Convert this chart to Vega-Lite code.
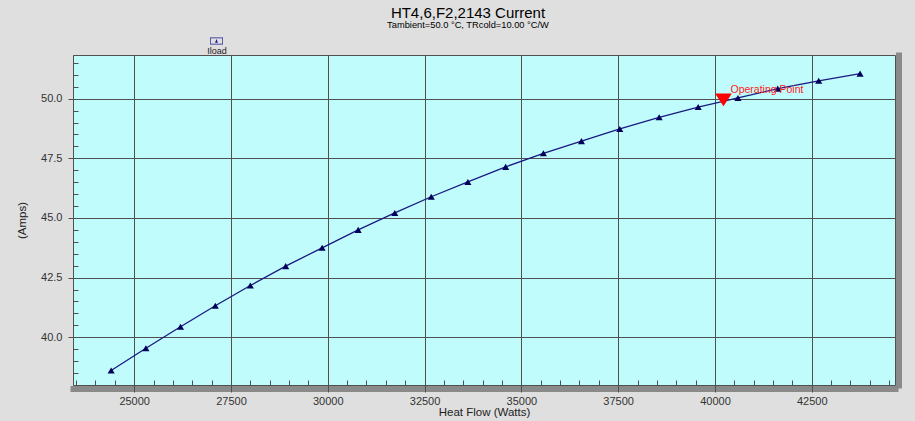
{
  "$schema": "https://vega.github.io/schema/vega-lite/v6.json",
  "width": 822,
  "height": 330,
  "autosize": {"type": "none"},
  "padding": {"left": 73, "top": 55, "right": 20, "bottom": 36},
  "background": "#dfdfdf",
  "config": {
    "font": "Liberation Sans",
    "view": {"fill": "#c0fcfc", "stroke": "#505050", "strokeWidth": 1}
  },
  "title": {
    "text": "HT4,6,F2,2143 Current",
    "subtitle": "Tambient=50.0 °C, TRcold=10.00 °C/W",
    "fontSize": 15,
    "fontWeight": "normal",
    "color": "#000000",
    "subtitleFontSize": 9.3,
    "subtitleColor": "#000000",
    "subtitlePadding": 0,
    "anchor": "middle",
    "frame": "group",
    "dx": -16
  },
  "datasets": {
    "curve": [
      {"heat": 24405, "amps": 38.61},
      {"heat": 25303, "amps": 39.54},
      {"heat": 26197, "amps": 40.44},
      {"heat": 27095, "amps": 41.32},
      {"heat": 28000, "amps": 42.17},
      {"heat": 28913, "amps": 42.98},
      {"heat": 29854, "amps": 43.75},
      {"heat": 30785, "amps": 44.50},
      {"heat": 31731, "amps": 45.21},
      {"heat": 32673, "amps": 45.89},
      {"heat": 33619, "amps": 46.51},
      {"heat": 34594, "amps": 47.14},
      {"heat": 35569, "amps": 47.71},
      {"heat": 36552, "amps": 48.22},
      {"heat": 37542, "amps": 48.73},
      {"heat": 38559, "amps": 49.22},
      {"heat": 39567, "amps": 49.65},
      {"heat": 40594, "amps": 50.03},
      {"heat": 41620, "amps": 50.42},
      {"heat": 42680, "amps": 50.75},
      {"heat": 43748, "amps": 51.05}
    ],
    "op": [{"heat": 40220, "amps": 49.95, "label": "Operating Point"}],
    "none": []
  },
  "resolve": {"axis": {"x": "independent", "y": "independent"}},
  "layer": [
    {
      "data": {"name": "curve"},
      "mark": {"type": "point", "opacity": 0},
      "encoding": {
        "x": {
          "field": "heat", "type": "quantitative",
          "scale": {"domain": [23420, 44650], "nice": false, "zero": false},
          "axis": {
            "orient": "bottom", "offset": 3.5, "values": [],
            "grid": false, "labels": false, "ticks": false, "title": null,
            "domain": true, "domainColor": "#8a8a8a", "domainWidth": 6, "domainCap": "square"
          }
        },
        "y": {
          "field": "amps", "type": "quantitative",
          "scale": {"domain": [38.0, 51.83], "nice": false, "zero": false},
          "axis": {
            "orient": "right", "offset": 3.5, "values": [],
            "grid": false, "labels": false, "ticks": false, "title": null,
            "domain": true, "domainColor": "#8a8a8a", "domainWidth": 6, "domainCap": "square"
          }
        }
      }
    },
    {
      "data": {"name": "curve"},
      "mark": {"type": "line", "color": "#1a1a80", "strokeWidth": 1.3},
      "encoding": {
        "x": {
          "field": "heat", "type": "quantitative",
          "axis": {
            "orient": "bottom",
            "values": [25000, 27500, 30000, 32500, 35000, 37500, 40000, 42500],
            "format": "d",
            "grid": true, "gridColor": "#505050", "gridOpacity": 1, "gridWidth": 1,
            "tickSize": 7, "tickColor": "#505050", "domain": false,
            "labelFontSize": 11, "labelColor": "#333333", "labelPadding": 3,
            "labelFlush": false, "labelOverlap": false,
            "title": "Heat Flow (Watts)", "titleFontSize": 11.5, "titleFontWeight": "normal",
            "titleColor": "#222222", "titlePadding": 0
          }
        },
        "y": {
          "field": "amps", "type": "quantitative",
          "axis": {
            "orient": "left",
            "values": [40, 42.5, 45, 47.5, 50],
            "format": ".1f",
            "grid": true, "gridColor": "#505050", "gridOpacity": 1, "gridWidth": 1,
            "tickSize": 5, "tickColor": "#505050", "domain": true, "domainColor": "#505050",
            "labelFontSize": 11, "labelColor": "#333333", "labelPadding": 6,
            "labelFlush": false, "labelOverlap": false,
            "title": "(Amps)", "titleFontSize": 11.5, "titleFontWeight": "normal",
            "titleColor": "#222222", "titlePadding": 13
          }
        }
      }
    },
    {
      "data": {"name": "curve"},
      "mark": {"type": "point", "filled": true, "shape": "triangle-up", "size": 50, "opacity": 1, "color": "#00005a"},
      "encoding": {
        "x": {"field": "heat", "type": "quantitative", "axis": null},
        "y": {"field": "amps", "type": "quantitative", "axis": null}
      }
    },
    {
      "data": {"name": "none"},
      "mark": {"type": "point", "filled": true, "opacity": 1, "shape": "M-1,-0.55L1,-0.55L1,0.55L-1,0.55Z M-0.9,-0.44L-0.9,0.44L0.9,0.44L0.9,-0.44Z M0,-0.3L0.22,0.25L-0.22,0.25Z"},
      "encoding": {
        "x": {"field": "heat", "type": "quantitative", "axis": null},
        "y": {"field": "amps", "type": "quantitative", "axis": null},
        "color": {
          "datum": "Iload",
          "scale": {"domain": ["Iload"], "range": ["#1a1a90"]},
          "legend": {
            "orient": "none",
            "legendX": 134,
            "legendY": -20.5,
            "title": "Iload",
            "titleOrient": "bottom",
            "titleAnchor": "middle",
            "titleFontSize": 9,
            "titleFontWeight": "normal",
            "titleColor": "#222222",
            "titlePadding": 0,
            "labelExpr": "''",
            "labelOffset": 0,
            "padding": 0,
            "symbolSize": 169,
            "symbolStrokeWidth": 0,
            "symbolOpacity": 1
          }
        }
      }
    },
    {
      "data": {"name": "curve"},
      "mark": {"type": "point", "opacity": 0},
      "encoding": {
        "x": {
          "field": "heat", "type": "quantitative",
          "axis": {
            "orient": "bottom",
            "offset": -5,
            "values": [23500, 24000, 24500, 25500, 26000, 26500, 27000, 28000, 28500, 29000, 29500, 30500, 31000, 31500, 32000, 33000, 33500, 34000, 34500, 35500, 36000, 36500, 37000, 38000, 38500, 39000, 39500, 40500, 41000, 41500, 42000, 43000, 43500, 44000, 44500],
            "grid": false, "labels": false, "domain": false, "title": null,
            "tickSize": 5, "tickColor": "#505050"
          }
        },
        "y": {
          "field": "amps", "type": "quantitative",
          "axis": {
            "orient": "left",
            "offset": -5,
            "values": [38.5, 39, 39.5, 40.5, 41, 41.5, 42, 43, 43.5, 44, 44.5, 45.5, 46, 46.5, 47, 48, 48.5, 49, 49.5, 50.5, 51, 51.5],
            "grid": false, "labels": false, "domain": false, "title": null,
            "tickSize": 5, "tickColor": "#505050"
          }
        }
      }
    },
    {
      "data": {"name": "op"},
      "mark": {"type": "point", "filled": true, "shape": "M-1,-0.75L1,-0.75L0,0.75Z", "size": 280, "color": "#ff0000", "opacity": 1},
      "encoding": {
        "x": {"field": "heat", "type": "quantitative", "axis": null},
        "y": {"field": "amps", "type": "quantitative", "axis": null}
      }
    },
    {
      "data": {"name": "op"},
      "mark": {"type": "text", "align": "left", "baseline": "middle", "dx": 7, "dy": -10, "fontSize": 10.5, "color": "#ff2020"},
      "encoding": {
        "x": {"field": "heat", "type": "quantitative", "axis": null},
        "y": {"field": "amps", "type": "quantitative", "axis": null},
        "text": {"field": "label"}
      }
    }
  ]
}
